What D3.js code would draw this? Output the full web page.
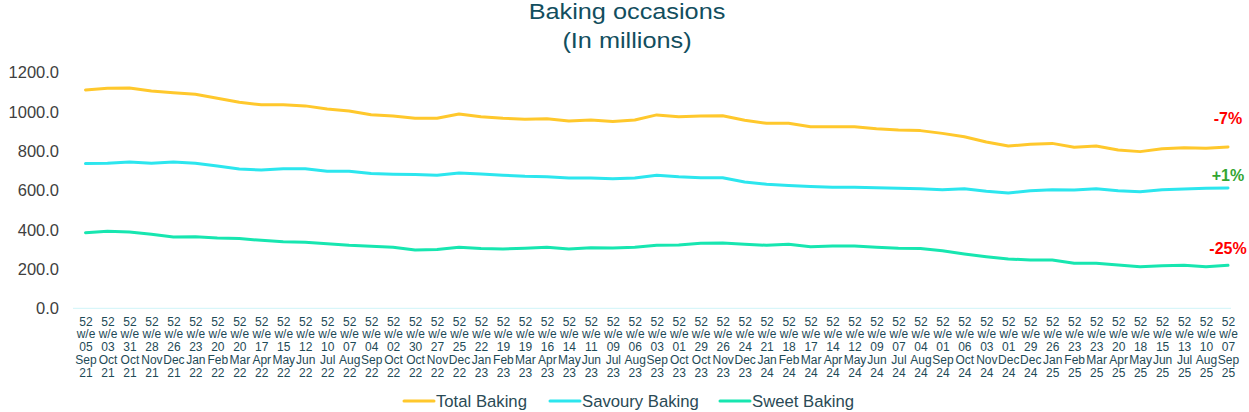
<!DOCTYPE html>
<html>
<head>
<meta charset="utf-8">
<script src="https://cdn.jsdelivr.net/npm/d3@7"></script>
<style>
    body { margin: 0; background: #fff; }
    text { font-family: "Liberation Sans", Arial, sans-serif; }
</style>
</head>
<body>
<div id="chart"></div>
<script>
// period labels (52 w/e ...)
const periods = [
    "05 Sep 21", "03 Oct 21", "31 Oct 21", "28 Nov 21", "26 Dec 21", "23 Jan 22", "20 Feb 22", "20 Mar 22",
    "17 Apr 22", "15 May 22", "12 Jun 22", "10 Jul 22", "07 Aug 22", "04 Sep 22", "02 Oct 22", "30 Oct 22",
    "27 Nov 22", "25 Dec 22", "22 Jan 23", "19 Feb 23", "19 Mar 23", "16 Apr 23", "14 May 23", "11 Jun 23",
    "09 Jul 23", "06 Aug 23", "03 Sep 23", "01 Oct 23", "29 Oct 23", "26 Nov 23", "24 Dec 23", "21 Jan 24",
    "18 Feb 24", "17 Mar 24", "14 Apr 24", "12 May 24", "09 Jun 24", "07 Jul 24", "04 Aug 24", "01 Sep 24",
    "06 Oct 24", "03 Nov 24", "01 Dec 24", "29 Dec 24", "26 Jan 25", "23 Feb 25", "23 Mar 25", "20 Apr 25",
    "18 May 25", "15 Jun 25", "13 Jul 25", "10 Aug 25", "07 Sep 25"
];

const totalBaking = [
    1112, 1121, 1122, 1107, 1098, 1090, 1070, 1049, 1037, 1037, 1031, 1015, 1005, 986, 980, 968,
    968, 990, 976, 968, 963, 966, 954, 959, 952, 959, 985, 976, 980, 981, 958, 942,
    942, 925, 925, 925, 915, 908, 905, 891, 874, 847, 827, 835, 840, 820, 827, 806,
    798, 813, 818, 815, 822
];
const savouryBaking = [
    737, 739, 745, 739, 745, 739, 725, 710, 704, 711, 711, 698, 698, 686, 683, 681,
    678, 689, 684, 678, 672, 670, 664, 664, 660, 664, 678, 670, 665, 665, 643, 632,
    625, 620, 616, 616, 614, 611, 609, 604, 609, 596, 587, 599, 604, 603, 609, 599,
    594, 604, 608, 611, 613
];
const sweetBaking = [
    385, 392, 389, 377, 363, 365, 358, 355, 346, 339, 336, 329, 321, 316, 311, 297,
    300, 311, 304, 302, 306, 311, 302, 309, 307, 311, 321, 322, 331, 333, 326, 321,
    326, 314, 317, 317, 311, 306, 304, 293, 277, 263, 251, 246, 246, 229, 229, 221,
    212, 217, 219, 212, 219
];

const seriesNames = ["Total Baking", "Savoury Baking", "Sweet Baking"];
const seriesColors = ["#FFC82C", "#2CE6EE", "#17E6B0"];
// year-on-year change labels and the value level they sit at
const changeLabels = ["-7%", "+1%", "-25%"];
const changeLevels = [969, 679, 307];
const changeColors = ["#FF0000", "#33A532", "#FF0000"];
const yTicks = [0, 200, 400, 600, 800, 1000, 1200];

const W = 1249, H = 412;
const svg = d3.select("#chart").append("svg")
    .attr("width", W)
    .attr("height", H);

const x = d3.scalePoint().domain(periods).range([85.5, 1228]);
const y = d3.scaleLinear().domain([0, 1200]).range([308.3, 72.7]);

// title (slightly wide, as in the source)
const title = svg.append("g")
    .attr("transform", "translate(627,0) scale(1.15,1)")
    .attr("fill", "#124E5E");
title.append("text")
    .attr("x", 0).attr("y", 18.5)
    .attr("text-anchor", "middle")
    .attr("font-size", 22)
    .text("Baking occasions");
title.append("text")
    .attr("x", 0).attr("y", 48.5)
    .attr("text-anchor", "middle")
    .attr("font-size", 22)
    .text("(In millions)");

// y axis labels (no line)
const yAxis = svg.append("g")
    .attr("transform", "translate(59,0)")
    .call(d3.axisLeft(y).tickValues(yTicks).tickFormat(d3.format(".1f")).tickSize(0).tickPadding(0));
yAxis.select(".domain").remove();
yAxis.selectAll("text")
    .attr("font-size", 16.5)
    .attr("fill", "#404040")
    .style("font-family", "'Liberation Sans', Arial, sans-serif");

// baseline
svg.append("line")
    .attr("x1", 73).attr("x2", 1231)
    .attr("y1", y(0)).attr("y2", y(0))
    .attr("stroke", "#CFF4F8")
    .attr("stroke-width", 1);

// x axis labels, 5 stacked lines
const xAxis = svg.append("g")
    .attr("transform", "translate(0," + y(0) + ")")
    .call(d3.axisBottom(x).tickSize(0).tickPadding(0));
xAxis.select(".domain").remove();
xAxis.selectAll(".tick text").each(function(d) {
    const t = d3.select(this);
    const parts = ["52", "w/e"].concat(d.split(" "));
    t.text(null)
        .attr("y", 0)
        .attr("dy", null)
        .attr("font-size", 12)
        .attr("fill", "#1E4A57")
        .style("font-family", "'Liberation Sans', Arial, sans-serif");
    parts.forEach((p, i) => {
        t.append("tspan")
            .attr("x", 0)
            .attr("y", 17.5 + i * 12.7)
            .text(p);
    });
});

// lines
const allSeries = [totalBaking, savouryBaking, sweetBaking];
const line = d3.line()
    .x((d, i) => x(periods[i]))
    .y(d => y(d));

allSeries.forEach((s, k) => {
    svg.append("path")
        .datum(s)
        .attr("fill", "none")
        .attr("stroke", seriesColors[k])
        .attr("stroke-width", 3)
        .attr("stroke-linejoin", "round")
        .attr("stroke-linecap", "round")
        .attr("d", line);
});

// change annotations at the right end
changeLabels.forEach((lab, k) => {
    svg.append("text")
        .attr("x", x(periods[periods.length - 1]))
        .attr("y", y(changeLevels[k]))
        .attr("dy", "0.35em")
        .attr("text-anchor", "middle")
        .attr("font-size", 16)
        .attr("font-weight", "bold")
        .attr("fill", changeColors[k])
        .text(lab);
});

// legend
const legendX = [404, 550, 720];
const legend = svg.append("g");
seriesNames.forEach((n, k) => {
    legend.append("line")
        .attr("x1", legendX[k]).attr("x2", legendX[k] + 30)
        .attr("y1", 401).attr("y2", 401)
        .attr("stroke", seriesColors[k])
        .attr("stroke-width", 3)
        .attr("stroke-linecap", "round");
    legend.append("text")
        .attr("x", legendX[k] + 32)
        .attr("y", 407)
        .attr("font-size", 16.7)
        .attr("fill", "#2A4A55")
        .text(n);
});
</script>
</body>
</html>
